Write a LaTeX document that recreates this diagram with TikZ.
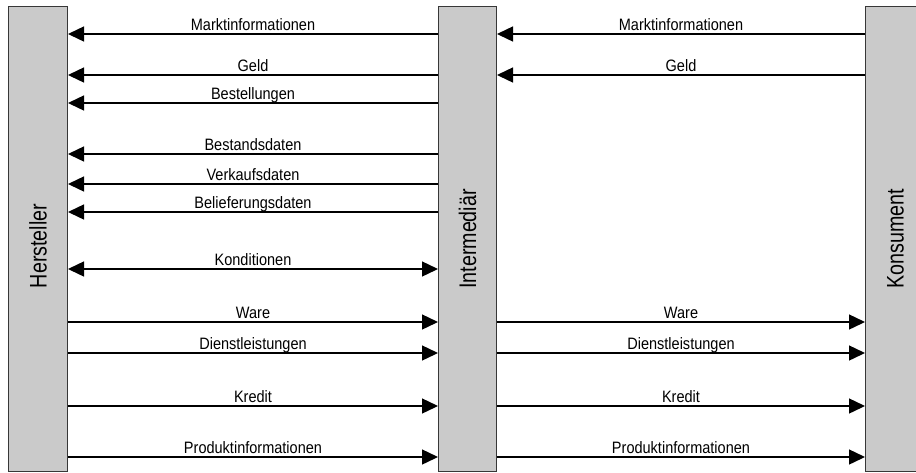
\documentclass[tikz,border=0pt]{standalone}
\usepackage{fontspec}
\usetikzlibrary{arrows.meta}
\newfontfamily\labfont[FakeStretch=0.88]{Liberation Sans}
\newfontfamily\barfont[FakeStretch=0.82]{Liberation Sans}
\definecolor{barfill}{RGB}{202,202,202}
\definecolor{barline}{RGB}{55,55,55}
\begin{document}
\begin{tikzpicture}[x=1pt,y=-1pt,
  actor/.style={draw=barline,line width=1pt,fill=barfill,inner sep=0pt,
    minimum height=465pt,anchor=north west},
  flow/.style={line width=1.4pt,-{Triangle[length=16pt,width=15pt]}},
  flowboth/.style={line width=1.4pt,{Triangle[length=16pt,width=15pt]}-{Triangle[length=16pt,width=15pt]}},
  lab/.style={midway,anchor=base,yshift=4pt,inner sep=0pt,font=\labfont\fontsize{16.5}{18}\selectfont},
  barlab/.style={rotate=90,font=\barfont\fontsize{24}{26}\selectfont}]
\useasboundingbox (0,0) rectangle (916,472);
% the three parties
\node[actor,minimum width=59pt] (H) at (8,6) {};
\node[actor,minimum width=58pt] (I) at (438,6) {};
\node[actor,minimum width=60pt] (K) at (865,6) {};
\node[barlab] (Ht) at ([yshift=-7pt]H.center) {Hersteller};
\node[barlab] (It) at (I.center) {Intermediär};
\node[barlab] (Kt) at (K.center) {Konsument};
% flows towards the manufacturer
\draw[flow] (I.west |- 0,34) -- (H.east |- 0,34) node[lab] (l1) {Marktinformationen};
\draw[flow] (I.west |- 0,75) -- (H.east |- 0,75) node[lab] (l2) {Geld};
\draw[flow] (I.west |- 0,103) -- (H.east |- 0,103) node[lab] (l3) {Bestellungen};
\draw[flow] (I.west |- 0,154) -- (H.east |- 0,154) node[lab] (l4) {Bestandsdaten};
\draw[flow] (I.west |- 0,184) -- (H.east |- 0,184) node[lab] (l5) {Verkaufsdaten};
\draw[flow] (I.west |- 0,212) -- (H.east |- 0,212) node[lab] (l6) {Belieferungsdaten};
\draw[flowboth] (H.east |- 0,269) -- (I.west |- 0,269) node[lab] (l7) {Konditionen};
% flows towards the intermediary
\draw[flow] (H.east |- 0,322) -- (I.west |- 0,322) node[lab] (l8) {Ware};
\draw[flow] (H.east |- 0,353) -- (I.west |- 0,353) node[lab] (l9) {Dienstleistungen};
\draw[flow] (H.east |- 0,406) -- (I.west |- 0,406) node[lab] (l10) {Kredit};
\draw[flow] (H.east |- 0,457) -- (I.west |- 0,457) node[lab] (l11) {Produktinformationen};
% flows between intermediary and consumer
\draw[flow] (K.west |- 0,34) -- (I.east |- 0,34) node[lab] (r1) {Marktinformationen};
\draw[flow] (K.west |- 0,75) -- (I.east |- 0,75) node[lab] (r2) {Geld};
\draw[flow] (I.east |- 0,322) -- (K.west |- 0,322) node[lab] (r3) {Ware};
\draw[flow] (I.east |- 0,353) -- (K.west |- 0,353) node[lab] (r4) {Dienstleistungen};
\draw[flow] (I.east |- 0,406) -- (K.west |- 0,406) node[lab] (r5) {Kredit};
\draw[flow] (I.east |- 0,457) -- (K.west |- 0,457) node[lab] (r6) {Produktinformationen};
\end{tikzpicture}
\end{document}
